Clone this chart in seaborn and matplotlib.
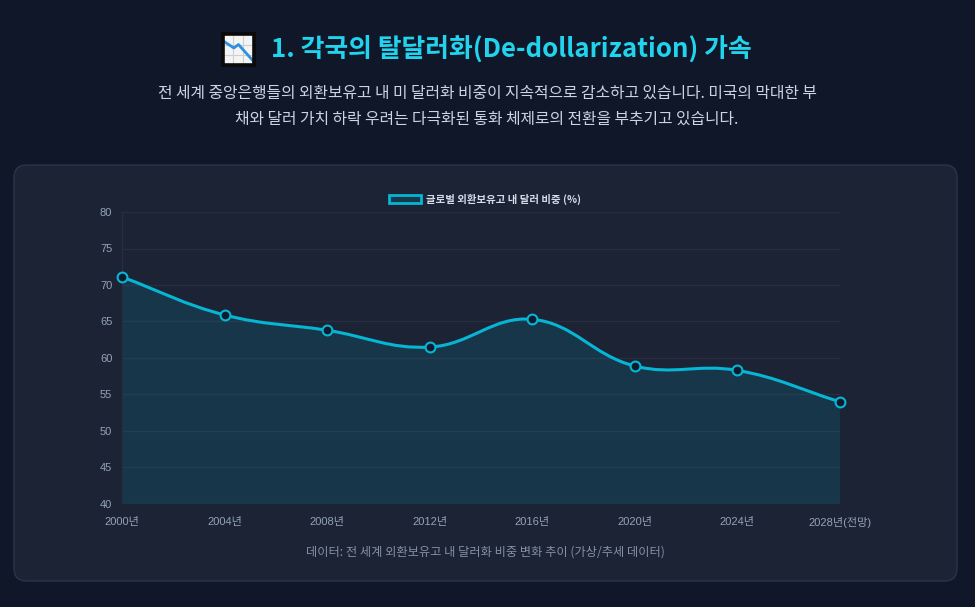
import numpy as np
import pandas as pd
import matplotlib
matplotlib.use("Agg")
import matplotlib.pyplot as plt
import seaborn as sns
from matplotlib.path import Path
from matplotlib.patches import PathPatch, FancyBboxPatch, Rectangle

# ---- data ----
categories = ["2000년", "2004년", "2008년", "2012년", "2016년", "2020년", "2024년", "2028년(전망)"]
dollar_share = [71.1, 65.9, 63.8, 61.5, 65.3, 58.9, 58.3, 54.0]
y_ticks = [40, 45, 50, 55, 60, 65, 70, 75, 80]
series_label = "글로벌 외환보유고 내 달러 비중 (%)"
title_text = "1. 각국의 탈달러화(De-dollarization) 가속"
subtitle_lines = ["전 세계 중앙은행들의 외환보유고 내 미 달러화 비중이 지속적으로 감소하고 있습니다. 미국의 막대한 부",
                  "채와 달러 가치 하락 우려는 다극화된 통화 체제로의 전환을 부추기고 있습니다."]
footer_text = "데이터: 전 세계 외환보유고 내 달러화 비중 변화 추이 (가상/추세 데이터)"

df = pd.DataFrame({"pos": np.arange(len(categories)), "year": categories, "share": dollar_share})

sns.set_theme(style="dark")
plt.rcParams["font.family"] = ["Liberation Sans", "Noto Sans CJK KR", "DejaVu Sans"]

W, H = 975, 607
fig = plt.figure(figsize=(W / 100, H / 100), dpi=100)
BG = "#0f1729"
fig.patch.set_facecolor(BG)

def fx(px): return px / W
def fy(py): return 1 - py / H

# card
card = FancyBboxPatch((fx(14), fy(581)), fx(957) - fx(14), fy(165) - fy(581),
                      boxstyle="round,pad=0,rounding_size=0.013", transform=fig.transFigure,
                      facecolor="#1b2335", edgecolor="#2b3547", linewidth=1.0, zorder=-5,
                      mutation_aspect=W / H)
fig.patches.append(card)

# title icon (chart-decreasing emoji drawn by hand)
iax = fig.add_axes([fx(223), fy(65), fx(254) - fx(223), fy(34) - fy(65)])
iax.set_xlim(0, 1); iax.set_ylim(0, 1)
iax.set_facecolor("#f4f4f4")
for v in [0.33, 0.66]:
    iax.axhline(v, color="#cfcfcf", lw=0.8)
    iax.axvline(v, color="#cfcfcf", lw=0.8)
iax.plot([0.0, 0.35, 0.5, 1.0], [0.78, 0.55, 0.66, 0.1], color="#2f8fe0", lw=2.0, solid_capstyle="butt")
iax.set_xticks([]); iax.set_yticks([])
for s in iax.spines.values():
    s.set_color("#0a0a0a"); s.set_linewidth(2.6)

# titles
fig.text(fx(511), fy(49), title_text, ha="center", va="center", color="#22d3ee",
         fontsize=18.6, fontweight="bold", family=["Noto Sans CJK KR", "DejaVu Sans"])
for i, line in enumerate(subtitle_lines):
    fig.text(fx(487), fy(93 + 26 * i), line, ha="center", va="center", color="#cbd5e1",
             fontsize=11.4, fontweight="medium", family=["Noto Sans CJK KR", "DejaVu Sans"])
fig.text(fx(485), fy(552), footer_text, ha="center", va="center", color="#8391a6",
         fontsize=8.8, family=["Noto Sans CJK KR", "DejaVu Sans"])

# main axes
ax = fig.add_axes([fx(122), fy(504), fx(840) - fx(122), fy(212) - fy(504)])
ax.set_zorder(3)
ax.set_facecolor("none")
ax.set_xlim(0, len(categories) - 1)
ax.set_ylim(y_ticks[0], y_ticks[-1])

# smooth curve (Chart.js style tension 0.4) computed in pixel-scaled space
xs = df["pos"].to_numpy(dtype=float)
ys = df["share"].to_numpy(dtype=float)
sx = (840 - 122) / (len(categories) - 1)
sy = (504 - 212) / (y_ticks[-1] - y_ticks[0])
P = np.column_stack([xs * sx, ys * sy])
t = 0.4
n = len(P)
cp_prev = np.zeros_like(P); cp_next = np.zeros_like(P)
for i in range(n):
    a = P[max(i - 1, 0)]; b = P[i]; c = P[min(i + 1, n - 1)]
    d01 = np.hypot(*(b - a)); d12 = np.hypot(*(c - b))
    tot = d01 + d12
    s01 = d01 / tot if tot else 0; s12 = d12 / tot if tot else 0
    cp_prev[i] = b - t * s01 * (c - a)
    cp_next[i] = b + t * s12 * (c - a)
verts = [tuple(P[0])]
codes = [Path.MOVETO]
for i in range(n - 1):
    verts += [tuple(cp_next[i]), tuple(cp_prev[i + 1]), tuple(P[i + 1])]
    codes += [Path.CURVE4] * 3
verts = np.array(verts) / np.array([sx, sy])
verts[:, 1] = np.clip(verts[:, 1], y_ticks[0], y_ticks[-1])
line_path = Path(verts, codes)
fill_verts = np.vstack([verts, [[xs[-1], y_ticks[0]], [xs[0], y_ticks[0]], verts[0]]])
fill_codes = codes + [Path.LINETO, Path.LINETO, Path.CLOSEPOLY]
ax.add_patch(PathPatch(Path(fill_verts, fill_codes), facecolor="#06b6d4", alpha=0.13,
                       edgecolor="none", zorder=1))
ax.add_patch(PathPatch(line_path, facecolor="none", edgecolor="#06b6d4", lw=2.2, zorder=3,
                       capstyle="round", joinstyle="round"))

sns.scatterplot(data=df, x="pos", y="share", ax=ax, s=50, color="#0f1a2c",
                edgecolor="#06b6d4", linewidth=1.5, zorder=4, legend=False, clip_on=False)

ax.set_yticks(y_ticks)
ax.set_xticks(df["pos"])
ax.set_xticklabels(categories)
ax.set_xlabel(""); ax.set_ylabel("")
ax.grid(axis="y", color="#ffffff", alpha=0.05, lw=0.9)
ax.grid(axis="x", visible=False)
ax.tick_params(axis="y", colors="#94a3b8", labelsize=8, length=4, width=0.8,
               color="#252f40", pad=3)
ax.tick_params(axis="x", colors="#94a3b8", labelsize=8, length=0, pad=9)
for lab in ax.get_yticklabels():
    lab.set_color("#94a3b8")
for lab in ax.get_xticklabels():
    lab.set_color("#94a3b8")
for s in ["top", "right", "bottom"]:
    ax.spines[s].set_visible(False)
ax.spines["left"].set_color("#252f40")
ax.spines["left"].set_linewidth(0.9)

# legend
lax_handle = Rectangle((0, 0), 1, 1, facecolor="#17384a", edgecolor="#06b6d4", linewidth=2)
leg = fig.legend([lax_handle], [series_label], loc="center", bbox_to_anchor=(fx(485), fy(199)),
                 frameon=False, handlelength=3.1, handleheight=0.8, handletextpad=0.5,
                 prop={"family": ["Noto Sans CJK KR", "DejaVu Sans"], "size": 7.5, "weight": "bold"})
for txt in leg.get_texts():
    txt.set_color("#d6dde8")

fig.savefig("out.png", dpi=100, facecolor=BG)
